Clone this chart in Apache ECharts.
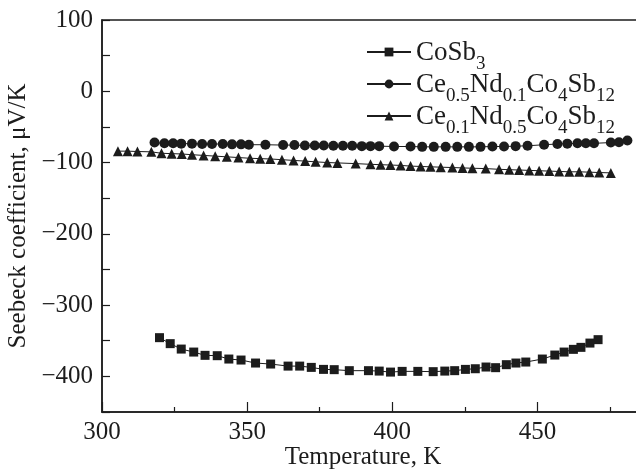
<!DOCTYPE html>
<html>
<head>
<meta charset="utf-8">
<script src="https://cdn.jsdelivr.net/npm/echarts@6/dist/echarts.min.js"></script>
<style>
  html, body { margin: 0; padding: 0; background: #fff; }
  #chart { width: 636px; height: 470px; }
</style>
</head>
<body>
<div id="chart"></div>
<script>
// series names (rich text for subscripts is built in the legend formatter)
var seriesNames = ["CoSb3", "Ce0.5Nd0.1Co4Sb12", "Ce0.1Nd0.5Co4Sb12"];

// CoSb3
var coTemp = [319.8, 323.5, 327.3, 331.6, 335.5, 339.7, 343.7, 347.9, 352.9, 358.1,
  364.1, 368.1, 372.1, 376.3, 380.0, 385.2, 391.8, 395.5, 399.4, 403.4,
  408.8, 414.1, 418.1, 421.5, 425.2, 428.6, 432.3, 435.6, 439.3, 442.6,
  446.0, 451.7, 456.0, 459.2, 462.4, 465.0, 468.1, 470.9];
var coSeebeck = [-345.7, -354.1, -361.7, -365.9, -370.5, -371.0, -375.7, -377.1, -381.3, -382.7,
  -385.6, -385.6, -387.4, -390.2, -390.6, -392.0, -392.0, -392.6, -394.0, -393.0,
  -393.0, -393.4, -392.6, -392.0, -390.2, -389.3, -386.9, -387.8, -383.6, -381.3,
  -379.9, -375.7, -370.1, -365.9, -362.1, -359.3, -353.3, -348.5];

// Ce0.5Nd0.1Co4Sb12
var ndLowTemp = [318.1, 321.5, 324.5, 327.3, 331.0, 334.5, 337.9, 341.6, 344.8, 347.9,
  350.6, 356.3, 362.4, 366.3, 369.9, 373.3, 376.4, 379.7, 383.0, 386.2,
  389.5, 392.5, 395.5, 400.6, 406.3, 410.3, 414.3, 418.4, 422.4, 426.4,
  430.4, 434.5, 438.5, 442.5, 446.6, 452.3, 456.9, 460.3, 463.8, 466.7,
  469.5, 475.3, 478.1, 481.0];
var ndLowSeebeck = [-72, -73, -73, -73.5, -73.5, -74, -74, -74, -74.5, -74.5,
  -75, -75, -75.5, -75.5, -76, -76, -76, -76.5, -76.5, -76.5,
  -77, -77, -77, -77.5, -77.5, -78, -78, -78, -78, -78,
  -78, -77.5, -77.5, -77, -76.5, -75, -74, -73.5, -73, -73,
  -73, -72, -71.5, -69];

// Ce0.1Nd0.5Co4Sb12
var ndHighTemp = [305.5, 308.8, 312.2, 317.0, 320.5, 324.0, 327.5, 331.0, 335.0, 339.0,
  343.0, 347.0, 351.0, 354.5, 358.0, 362.0, 366.0, 370.0, 373.6, 377.6,
  381.1, 387.4, 392.5, 396.0, 399.4, 402.9, 406.3, 409.8, 413.2, 416.7,
  420.7, 424.2, 427.6, 432.2, 436.8, 440.3, 443.7, 447.2, 450.6, 454.1,
  457.5, 461.0, 464.4, 467.9, 471.3, 475.3];
var ndHighSeebeck = [-84, -84, -84.5, -85, -87, -87.5, -88, -89, -90, -91,
  -92, -93, -94, -94.5, -95, -96, -97, -98, -99, -100,
  -100.5, -101.5, -102.5, -103, -103.5, -104, -105, -105.5, -106, -106.5,
  -107, -107.5, -108, -108.5, -109.5, -110, -110.5, -111, -111.5, -112,
  -112.5, -113, -113, -113.5, -114, -114.5];

var legendRich = {
  "CoSb3": "{n|CoSb}{s|3}",
  "Ce0.5Nd0.1Co4Sb12": "{n|Ce}{s|0.5}{n|Nd}{s|0.1}{n|Co}{s|4}{n|Sb}{s|12}",
  "Ce0.1Nd0.5Co4Sb12": "{n|Ce}{s|0.1}{n|Nd}{s|0.5}{n|Co}{s|4}{n|Sb}{s|12}"
};

function pairs(xs, ys) {
  return xs.map(function (x, i) { return [x, ys[i]]; });
}
function minus(v) {
  return String(v).replace("-", "\u2212");
}

var ink = "#1c1c1c";
var serif = "Liberation Serif";

var chart = echarts.init(document.getElementById("chart"));

var makeSeries = function (name, symbol, size, xs, ys) {
  return {
    name: name,
    type: "line",
    data: pairs(xs, ys),
    symbol: symbol,
    symbolSize: size,
    showAllSymbol: true,
    lineStyle: { color: ink, width: 1 },
    itemStyle: { color: ink },
    animation: false
  };
};

var option = {
  backgroundColor: "#fff",
  grid: {
    left: 102,
    top: 20,
    right: -3,
    bottom: 58,
    outerBoundsMode: "none",
    show: true,
    borderColor: ink,
    borderWidth: 1.5
  },
  legend: {
    orient: "vertical",
    left: 361,
    top: 34,
    itemWidth: 44,
    itemHeight: 11,
    itemGap: -3,
    data: seriesNames,
    formatter: function (name) { return legendRich[name]; },
    textStyle: {
      color: ink,
      fontFamily: serif,
      rich: {
        n: { fontSize: 27, fontFamily: serif, color: ink, lineHeight: 26, verticalAlign: "top" },
        s: { fontSize: 19, fontFamily: serif, color: ink, lineHeight: 18, padding: [16, 0, 0, 0], verticalAlign: "top" }
      }
    }
  },
  xAxis: {
    type: "value",
    min: 300,
    max: 485,
    interval: 50,
    name: "Temperature, K",
    nameLocation: "middle",
    nameGap: 33,
    nameMoveOverlap: false,
    nameTextStyle: { fontFamily: serif, fontSize: 25, color: ink, padding: [0, 15, 0, 0] },
    axisLine: { onZero: false, lineStyle: { color: ink, width: 1.5 } },
    axisTick: { inside: true, length: 10, lineStyle: { color: ink, width: 1.2 } },
    minorTick: { show: true, splitNumber: 2, length: 5, lineStyle: { color: ink, width: 1.2 } },
    splitLine: { show: false },
    axisLabel: {
      margin: 8,
      fontFamily: serif,
      fontSize: 25,
      color: ink,
      formatter: function (v) { return v % 50 === 0 ? String(v) : ""; }
    }
  },
  yAxis: {
    type: "value",
    min: -450,
    max: 100,
    interval: 50,
    name: "Seebeck coefficient, \u03bcV/K",
    nameLocation: "middle",
    nameGap: 71,
    nameTextStyle: { fontFamily: serif, fontSize: 25, color: ink },
    axisLine: { onZero: false, lineStyle: { color: ink, width: 1.5 } },
    axisTick: { inside: true, length: 8, lineStyle: { color: ink, width: 1.2 } },
    splitLine: { show: false },
    axisLabel: {
      margin: 9,
      fontFamily: serif,
      fontSize: 25,
      color: ink,
      formatter: function (v) { return v % 100 === 0 ? minus(v) : ""; }
    }
  },
  series: [
    makeSeries(seriesNames[0], "rect", 9, coTemp, coSeebeck),
    makeSeries(seriesNames[1], "circle", 10, ndLowTemp, ndLowSeebeck),
    makeSeries(seriesNames[2], "triangle", 10, ndHighTemp, ndHighSeebeck)
  ],
  animation: false
};

chart.setOption(option);
window.addEventListener("resize", function () {
  chart.resize();
});
</script>
</body>
</html>
